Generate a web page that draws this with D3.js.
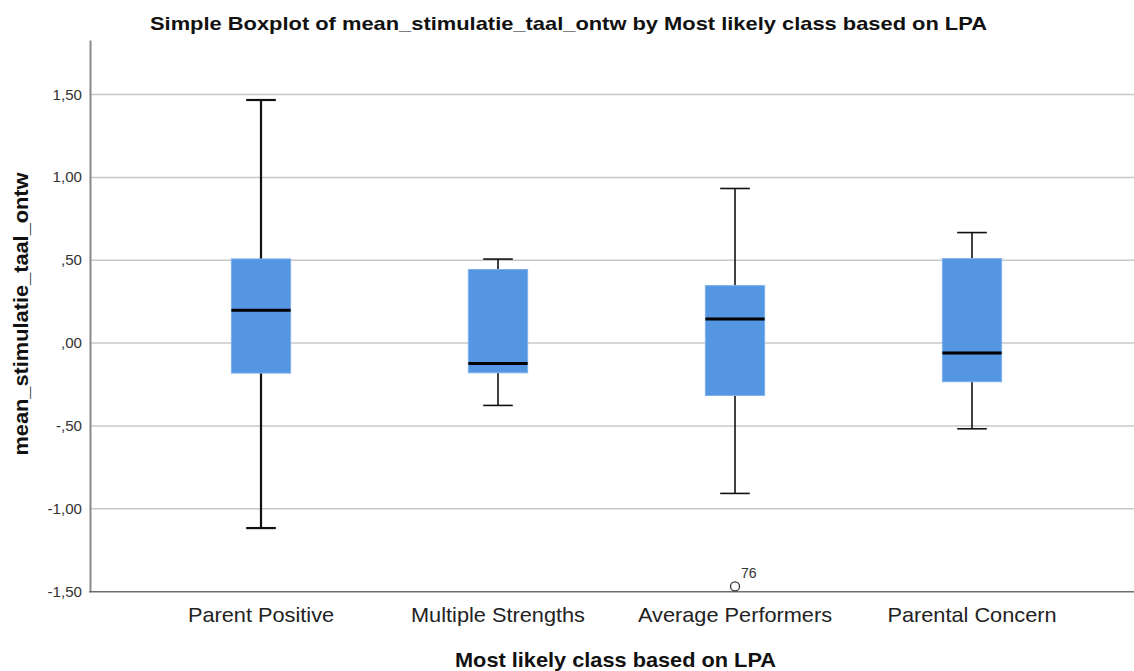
<!DOCTYPE html>
<html><head><meta charset="utf-8">
<script src="https://cdn.jsdelivr.net/npm/d3@7"></script>
<style>body{margin:0;background:#fff}svg{display:block}text{font-family:Arial,"Liberation Sans",sans-serif}</style>
</head><body>
<svg id="c" width="1134" height="671"></svg>
<script>
const categories = ["Parent Positive", "Multiple Strengths", "Average Performers", "Parental Concern"];
const whiskerLow  = [-1.116, -0.376, -0.907, -0.517];
const q1          = [-0.181, -0.179, -0.316, -0.233];
const median      = [0.199, -0.123, 0.145, -0.059];
const q3          = [0.508, 0.444, 0.347, 0.510];
const whiskerHigh = [1.467, 0.507, 0.933, 0.667];
const outlierCat = ["Average Performers"];
const outlierVal = [-1.468];
const outlierLab = ["76"];
const yTicks = [-1.5, -1.0, -0.5, 0, 0.5, 1.0, 1.5];

(function () {
const svg = d3.select("#c");
const mL = 90, mR = 1134, mT = 40, mB = 591.7;
const y = d3.scaleLinear().domain([-1.5, 1.829]).range([mB, mT]);
const x = d3.scaleBand().domain(categories).range([142.5, 1090.5]).paddingInner(0.75).paddingOuter(0.375);
const fmt = v => { const s = Math.abs(v).toFixed(2).replace(".", ","); const t = s.startsWith("0") ? s.slice(1) : s; return (v < 0 ? "-" : "") + t; };
const stretch = (sel, k) => sel.each(function () { const L = this.getComputedTextLength(); d3.select(this).attr("textLength", L * k).attr("lengthAdjust", "spacingAndGlyphs"); });

// gridlines
svg.append("g").selectAll("line").data(yTicks.filter(v => v > -1.5)).join("line")
  .attr("x1", mL).attr("x2", mR).attr("y1", d => y(d)).attr("y2", d => y(d))
  .attr("stroke", "#c8c8c8").attr("stroke-width", 1.5);

// y axis
const ya = svg.append("g").attr("transform", `translate(${mL},0)`)
  .call(d3.axisLeft(y).tickValues(yTicks).tickFormat(fmt).tickSize(0).tickPadding(8));
ya.select(".domain").attr("stroke", "#8a8a8a").attr("stroke-width", 2);
ya.selectAll("text").attr("font-size", 14).attr("fill", "#333");
stretch(ya.selectAll("text"), 1.08);

// x axis
const xa = svg.append("g").attr("transform", `translate(0,${mB})`)
  .call(d3.axisBottom(x).tickSize(0).tickPadding(14));
xa.select(".domain").remove();
svg.append("line").attr("x1", mL - 1).attr("x2", mR).attr("y1", mB).attr("y2", mB)
  .attr("stroke", "#6e6e6e").attr("stroke-width", 1.5);
xa.selectAll("text").attr("font-size", 21).attr("fill", "#222").attr("dy", null).attr("y", 30);
stretch(xa.selectAll("text"), 1.035);

// boxes
const bw = x.bandwidth();
const g = svg.append("g");
categories.forEach((c, i) => {
  const cx = x(c) + bw / 2;
  const sw = i === 0 ? 2.2 : 1.6;
  g.append("line").attr("x1", cx).attr("x2", cx).attr("y1", y(whiskerHigh[i])).attr("y2", y(q3[i])).attr("stroke", "#111").attr("stroke-width", sw);
  g.append("line").attr("x1", cx).attr("x2", cx).attr("y1", y(q1[i])).attr("y2", y(whiskerLow[i])).attr("stroke", "#111").attr("stroke-width", sw);
  [whiskerHigh[i], whiskerLow[i]].forEach(v => g.append("line").attr("x1", cx - bw / 4).attr("x2", cx + bw / 4)
    .attr("y1", y(v)).attr("y2", y(v)).attr("stroke", "#111").attr("stroke-width", sw));
  g.append("rect").attr("x", x(c)).attr("width", bw).attr("y", y(q3[i])).attr("height", y(q1[i]) - y(q3[i]))
    .attr("fill", "#5596e3").attr("stroke", "#7fb0ee").attr("stroke-width", 1);
  g.append("line").attr("x1", x(c)).attr("x2", x(c) + bw).attr("y1", y(median[i])).attr("y2", y(median[i]))
    .attr("stroke", "#000").attr("stroke-width", 3);
});
outlierCat.forEach((c, i) => {
  const cx = x(c) + bw / 2;
  g.append("circle").attr("cx", cx).attr("cy", y(outlierVal[i])).attr("r", 4.5).attr("fill", "#fff").attr("stroke", "#333").attr("stroke-width", 1.3);
  g.append("text").attr("x", cx + 6).attr("y", y(outlierVal[i]) - 8).attr("font-size", 14).attr("fill", "#333").text(outlierLab[i]);
});

// titles
svg.append("text").attr("x", 568.5).attr("y", 29.5).attr("text-anchor", "middle").attr("font-size", 19).attr("font-weight", "bold").attr("fill", "#111")
  .attr("textLength", 837).attr("lengthAdjust", "spacingAndGlyphs")
  .text("Simple Boxplot of mean_stimulatie_taal_ontw by Most likely class based on LPA");
svg.append("text").attr("x", 615.5).attr("y", 667).attr("text-anchor", "middle").attr("font-size", 21).attr("font-weight", "bold").attr("fill", "#111")
  .attr("textLength", 321).attr("lengthAdjust", "spacingAndGlyphs")
  .text("Most likely class based on LPA");
svg.append("text").attr("transform", "translate(28,314) rotate(-90)").attr("text-anchor", "middle").attr("font-size", 20.5).attr("font-weight", "bold").attr("fill", "#111")
  .attr("textLength", 283).attr("lengthAdjust", "spacingAndGlyphs")
  .text("mean_stimulatie_taal_ontw");
})();
</script>
</body></html>
